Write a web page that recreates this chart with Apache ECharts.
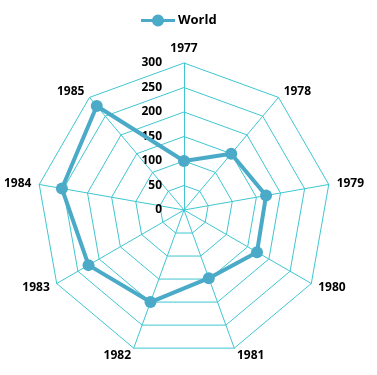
<!DOCTYPE html>
<html><head><meta charset="utf-8">
<script src="https://cdn.jsdelivr.net/npm/echarts@6/dist/echarts.min.js"></script>
<style>html,body{margin:0;padding:0;background:#fff}#c{width:377px;height:375px}</style>
</head><body><div id="c"></div>
<script>
var categories = ['1977','1978','1979','1980','1981','1982','1983','1984','1985'];
var worldValues = [100, 150, 170, 172, 148, 200, 225, 253, 277];
var axisMax = 300;
var seriesName = 'World';

// ECharts places radar indicators counter-clockwise; reorder so they run clockwise
var order = [0];
for (var k = categories.length - 1; k > 0; k--) order.push(k);

var chart = echarts.init(document.getElementById('c'));
var indicators = order.map(function(i){
  var o = {name: categories[i], max: axisMax, min: 0};
  if (i === 0) o.axisLabel = {show: true, color: '#000', fontFamily: 'Open Sans', fontWeight: 'bold', fontSize: 12, margin: 16, align: 'right', padding: [0, 6, 0, 0]};
  return o;
});
var vals = order.map(function(i){ return worldValues[i]; });
chart.setOption({
  animation: false,
  legend: {
    data: [{name: seriesName, icon: 'path://M0,4.5h34v3H0z M11,6a6,6 0 1,1 12,0a6,6 0 1,1 -12,0z'}],
    left: 136, top: 9,
    itemWidth: 34, itemHeight: 12, itemGap: 4,
    textStyle: {fontFamily: 'Open Sans', fontWeight: 'bold', fontSize: 13, color: '#000', padding: [0,0,0,-2]}
  },
  radar: {
    center: [184, 210], radius: 147, startAngle: 90,
    splitNumber: 6, shape: 'polygon',
    indicator: indicators,
    axisName: {color: '#000', fontFamily: 'Open Sans', fontWeight: 'bold', fontSize: 12},
    nameGap: 8,
    axisLine: {lineStyle: {color: '#3fc6d0', width: 1}},
    splitLine: {lineStyle: {color: '#3fc6d0', width: 1}},
    splitArea: {show: false},
    axisLabel: {show: false}
  },
  series: [{
    type: 'radar', name: seriesName,
    symbol: 'circle', symbolSize: 12,
    lineStyle: {color: '#4aaac7', width: 4},
    itemStyle: {color: '#4aaac7'},
    data: [{value: vals, name: seriesName}]
  }]
});
</script></body></html>
